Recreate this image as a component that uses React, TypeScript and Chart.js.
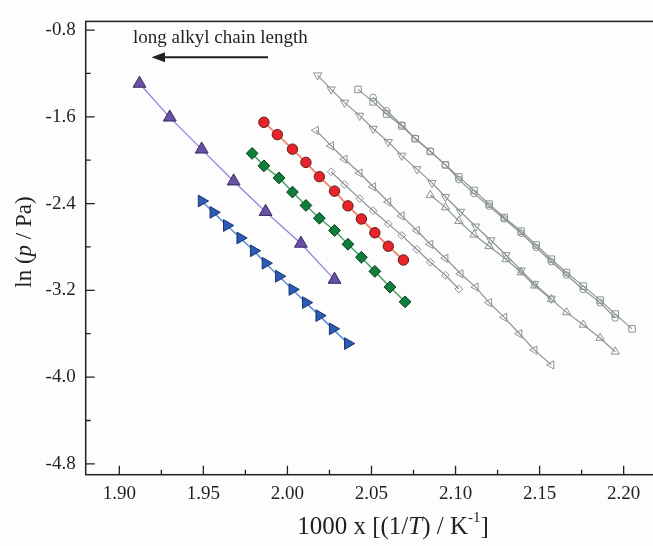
import { useEffect, useRef } from 'react';
import { Chart, registerables } from 'chart.js';

Chart.register(...registerables);

// ---- axis ticks ----
const X_TICKS = [1.9, 1.95, 2.0, 2.05, 2.1, 2.15, 2.2];
const X_MINOR = [1.925, 1.975, 2.025, 2.075, 2.125, 2.175, 2.225];
const Y_TICKS = [-4.8, -4.0, -3.2, -2.4, -1.6, -0.8];
const Y_MINOR = [-4.4, -3.6, -2.8, -2.0, -1.2];

// ---- coloured series ----
const purpleX = [1.912, 1.93, 1.949, 1.968, 1.987, 2.008, 2.028];
const purpleY = [-1.293, -1.605, -1.9, -2.194, -2.475, -2.768, -3.101];

const blueX = [1.949, 1.956, 1.964, 1.972, 1.98, 1.987, 1.995, 2.003, 2.011, 2.019, 2.027, 2.036];
const blueY = [-2.376, -2.481, -2.602, -2.717, -2.835, -2.95, -3.07, -3.192, -3.313, -3.433, -3.555, -3.691];

const redX = [1.986, 1.994, 2.003, 2.011, 2.019, 2.028, 2.036, 2.044, 2.052, 2.06, 2.069];
const redY = [-1.65, -1.764, -1.898, -2.02, -2.152, -2.285, -2.421, -2.542, -2.669, -2.793, -2.92];

const greenX = [1.979, 1.986, 1.995, 2.003, 2.011, 2.019, 2.028, 2.036, 2.044, 2.052, 2.061, 2.07];
const greenY = [-1.937, -2.052, -2.163, -2.294, -2.417, -2.535, -2.648, -2.775, -2.895, -3.025, -3.17, -3.306];

// ---- grey (hollow) series ----
const leftTriX = [2.017, 2.026, 2.034, 2.043, 2.051, 2.06, 2.068, 2.077, 2.085, 2.094, 2.103, 2.112, 2.12, 2.129, 2.138, 2.147, 2.157];
const leftTriY = [-1.725, -1.868, -1.991, -2.118, -2.245, -2.385, -2.514, -2.648, -2.775, -2.904, -3.047, -3.17, -3.313, -3.449, -3.6, -3.751, -3.887];

const diamondX = [2.026, 2.034, 2.043, 2.051, 2.06, 2.068, 2.077, 2.085, 2.094, 2.102];
const diamondY = [-2.106, -2.224, -2.354, -2.466, -2.587, -2.693, -2.823, -2.941, -3.061, -3.188];

const downTriX = [2.018, 2.026, 2.034, 2.043, 2.051, 2.06, 2.068, 2.077, 2.086, 2.094, 2.103, 2.112, 2.121, 2.13, 2.139, 2.147, 2.157];
const downTriY = [-1.217, -1.347, -1.469, -1.589, -1.71, -1.831, -1.958, -2.082, -2.209, -2.339, -2.475, -2.611, -2.738, -2.874, -3.016, -3.14, -3.276];

const upTriX = [2.085, 2.094, 2.102, 2.111, 2.12, 2.13, 2.139, 2.147, 2.157, 2.166, 2.176, 2.186, 2.195];
const upTriY = [-2.321, -2.435, -2.562, -2.687, -2.793, -2.913, -3.034, -3.156, -3.283, -3.403, -3.518, -3.639, -3.766];

const squareX = [2.042, 2.051, 2.059, 2.068, 2.076, 2.085, 2.094, 2.102, 2.111, 2.12, 2.129, 2.139, 2.148, 2.157, 2.166, 2.176, 2.186, 2.195, 2.205];
const squareY = [-1.347, -1.462, -1.574, -1.684, -1.802, -1.92, -2.043, -2.154, -2.279, -2.405, -2.528, -2.655, -2.782, -2.913, -3.036, -3.161, -3.29, -3.419, -3.555];

const circleX = [2.051, 2.059, 2.068, 2.076, 2.085, 2.094, 2.102, 2.111, 2.12, 2.129, 2.139, 2.148, 2.157, 2.166, 2.176, 2.186, 2.195];
const circleY = [-1.421, -1.544, -1.675, -1.798, -1.916, -2.043, -2.179, -2.308, -2.424, -2.542, -2.673, -2.805, -2.936, -3.059, -3.192, -3.313, -3.455];

const ANNOTATION = 'long alkyl chain length';

const FONT = '"Liberation Serif", "DejaVu Serif", serif';
const INK = '#231f1c';
const GREY = '#8b9396';

const pts = (xs: number[], ys: number[]) => xs.map((x, i) => ({ x, y: ys[i] }));

type Run = { t: string; f: string; dy?: number };

function drawRuns(ctx: CanvasRenderingContext2D, runs: Run[], cx: number, cy: number) {
  let total = 0;
  runs.forEach((r) => {
    ctx.font = r.f;
    total += ctx.measureText(r.t).width;
  });
  let x = cx - total / 2;
  ctx.textAlign = 'left';
  ctx.textBaseline = 'middle';
  runs.forEach((r) => {
    ctx.font = r.f;
    ctx.fillText(r.t, x, cy + (r.dy || 0));
    x += ctx.measureText(r.t).width;
  });
}

const decor = {
  id: 'decor',
  afterDraw(chart: any) {
    const { ctx, chartArea: a, scales } = chart;
    const xs = scales.x;
    const ys = scales.y;
    ctx.save();
    ctx.strokeStyle = INK;
    ctx.lineWidth = 1.5;
    ctx.strokeRect(a.left, a.top, a.right - a.left, a.bottom - a.top);

    ctx.lineWidth = 1.3;
    ctx.beginPath();
    X_TICKS.forEach((v) => {
      const p = xs.getPixelForValue(v);
      ctx.moveTo(p, a.bottom);
      ctx.lineTo(p, a.bottom - 9);
    });
    X_MINOR.forEach((v) => {
      const p = xs.getPixelForValue(v);
      ctx.moveTo(p, a.bottom);
      ctx.lineTo(p, a.bottom - 5);
    });
    Y_TICKS.forEach((v) => {
      const p = ys.getPixelForValue(v);
      ctx.moveTo(a.left, p);
      ctx.lineTo(a.left + 9, p);
    });
    Y_MINOR.forEach((v) => {
      const p = ys.getPixelForValue(v);
      ctx.moveTo(a.left, p);
      ctx.lineTo(a.left + 5, p);
    });
    ctx.stroke();

    ctx.fillStyle = INK;
    // x title
    const n = `25px ${FONT}`;
    const it = `italic 25px ${FONT}`;
    drawRuns(
      ctx,
      [
        { t: '1000 x [(1/', f: n },
        { t: 'T', f: it },
        { t: ') / K', f: n },
        { t: '-1', f: `15px ${FONT}`, dy: -9 },
        { t: ']', f: n },
      ],
      393,
      527
    );
    // y title
    ctx.save();
    ctx.translate(25, 242);
    ctx.rotate(-Math.PI / 2);
    const yn = `23px ${FONT}`;
    drawRuns(
      ctx,
      [
        { t: 'ln (', f: yn },
        { t: 'p', f: `italic 23px ${FONT}` },
        { t: ' / Pa)', f: yn },
      ],
      0,
      0
    );
    ctx.restore();

    // annotation
    ctx.font = `19px ${FONT}`;
    ctx.textAlign = 'left';
    ctx.textBaseline = 'alphabetic';
    ctx.fillText(ANNOTATION, 133, 42.5);
    // arrow
    ctx.lineWidth = 2;
    ctx.beginPath();
    ctx.moveTo(268, 57.3);
    ctx.lineTo(162, 57.3);
    ctx.stroke();
    ctx.beginPath();
    ctx.moveTo(151.5, 57.3);
    ctx.lineTo(165, 52.3);
    ctx.lineTo(165, 62.3);
    ctx.closePath();
    ctx.fill();
    ctx.restore();
  },
};

export default function App() {
  const ref = useRef<HTMLCanvasElement | null>(null);

  useEffect(() => {
    if (!ref.current) return;
    const colored = (
      label: string,
      data: any[],
      style: string,
      rot: number,
      r: number,
      fill: string,
      border: string,
      line: string,
      lw: number
    ) => ({
      label,
      data,
      showLine: true,
      borderColor: line,
      borderWidth: lw,
      pointStyle: style,
      pointRotation: rot,
      pointRadius: r,
      pointHoverRadius: r,
      pointBackgroundColor: fill,
      pointBorderColor: border,
      pointBorderWidth: 1,
      backgroundColor: fill,
    });
    const grey = (label: string, data: any[], style: string, rot: number, r: number) => ({
      label,
      data,
      showLine: true,
      borderColor: GREY,
      borderWidth: 1.2,
      pointStyle: style,
      pointRotation: rot,
      pointRadius: r,
      pointHoverRadius: r,
      pointBackgroundColor: 'rgba(255,255,255,0)',
      pointBorderColor: GREY,
      pointBorderWidth: 1,
    });

    const chart = new Chart(ref.current, {
      type: 'scatter',
      data: {
        datasets: [
          colored('purple', pts(purpleX, purpleY), 'triangle', 0, 7.4, '#6a4fa6', '#3a2a64', '#8f86da', 1.3),
          colored('blue', pts(blueX, blueY), 'triangle', 90, 6.8, '#2c5bb5', '#1c3470', '#5a8fd8', 1.5),
          colored('red', pts(redX, redY), 'circle', 0, 5.2, '#e8242a', '#5e1a16', '#f28c78', 2),
          colored('green', pts(greenX, greenY), 'rectRot', 0, 5.9, '#0f7d3c', '#0a3a1e', '#49a865', 1.5),
          grey('left', pts(leftTriX, leftTriY), 'triangle', 270, 4.8),
          grey('diamond', pts(diamondX, diamondY), 'rectRot', 0, 3.9),
          grey('down', pts(downTriX, downTriY), 'triangle', 180, 4.8),
          grey('up', pts(upTriX, upTriY), 'triangle', 0, 4.8),
          grey('square', pts(squareX, squareY), 'rect', 0, 4.6),
          grey('circle', pts(circleX, circleY), 'circle', 0, 3.3),
        ],
      },
      options: {
        responsive: false,
        animation: false,
        layout: { padding: { left: 0, top: 14, right: 32.3, bottom: 0 } },
        plugins: { legend: { display: false }, tooltip: { enabled: false } },
        events: [],
        scales: {
          x: {
            type: 'linear',
            min: 1.88,
            max: 2.25,
            grid: { display: false, drawTicks: false },
            border: { display: false },
            afterBuildTicks: (s: any) => {
              s.ticks = X_TICKS.map((v) => ({ value: v }));
            },
            afterFit: (s: any) => {
              s.height = 71.3;
            },
            ticks: {
              padding: 8,
              color: INK,
              font: { family: FONT, size: 19 },
              maxRotation: 0,
              autoSkip: false,
              callback: (v: any) => Number(v).toFixed(2),
            },
          },
          y: {
            type: 'linear',
            min: -4.9,
            max: -0.72,
            grid: { display: false, drawTicks: false },
            border: { display: false },
            afterBuildTicks: (s: any) => {
              s.ticks = Y_TICKS.map((v) => ({ value: v }));
            },
            afterFit: (s: any) => {
              s.width = 85.7;
            },
            ticks: {
              padding: 10,
              color: INK,
              font: { family: FONT, size: 19 },
              autoSkip: false,
              callback: (v: any) => Number(v).toFixed(1),
            },
          },
        },
      },
      plugins: [decor],
    } as any);
    return () => chart.destroy();
  }, []);

  return (
    <div
      style={{
        position: 'absolute',
        left: 0,
        top: 0,
        width: 653,
        height: 546,
        overflow: 'hidden',
        background: '#fdfdfe',
      }}
    >
      <canvas ref={ref} width={740} height={546} style={{ display: 'block' }} />
    </div>
  );
}
